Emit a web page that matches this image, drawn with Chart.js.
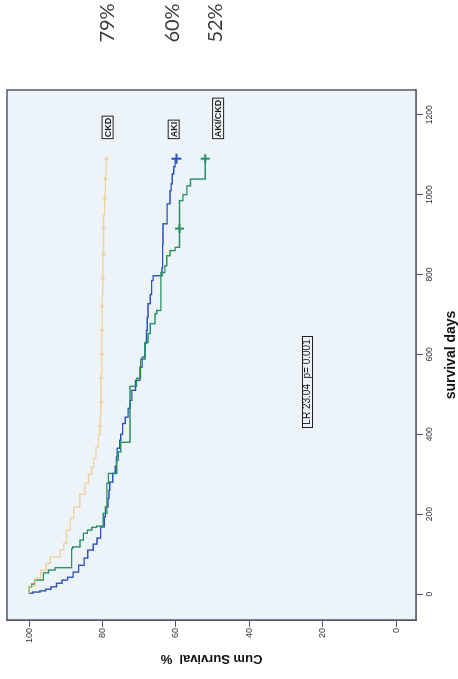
<!DOCTYPE html>
<html><head><meta charset="utf-8">
<script src="https://cdn.jsdelivr.net/npm/chart.js@4.4.1/dist/chart.umd.min.js"></script>
<style>
html,body{margin:0;padding:0;background:#fff;width:458px;height:679px;overflow:hidden;}
#wrap{position:absolute;left:0;top:0;width:679px;height:458px;transform-origin:0 0;transform:translate(0,679px) rotate(-90deg);}
canvas{display:block;}
</style></head><body>
<div id="wrap"><canvas id="c" width="679" height="458"></canvas></div>
<script>
// ---- data ----
const dayTicks = [0, 200, 400, 600, 800, 1000, 1200];
const survTicks = [0, 20, 40, 60, 80, 100];
const groups = ['CKD', 'AKI', 'AKI/CKD'];
const endPercents = ['79%', '60%', '52%'];
const endPercentAnchor = [78.7, 61, 49.2];
const groupLabelAnchor = [78.6, 60.6, 48.5];
const testText = 'LR 23.04  p= 0.001';

const ckdDays = [0,20,40,60,77,93,110,127,160,190,218,250,277,300,318,340,368,400,450,550,650,750,850,950,1000,1050,1090];
const ckdSurv = [100,98.3,96.8,95.3,94.2,91.5,90.5,89.8,88.8,87.8,86.2,84.8,83.8,83,82.4,81.8,81.1,80.6,80.4,80.2,80.1,79.9,79.7,79.4,79.2,79,78.8];
const ckdCensorDays = [420,480,540,600,660,720,790,850,915,990,1040,1090];
const ckdCensorSurv = [80.6,80.4,80.4,80.2,80.1,80.1,79.9,79.7,79.7,79.4,79.2,78.8];

const akiDays = [0,2,5,8,12,18,27,35,42,55,72,90,110,125,140,168,193,218,240,260,280,302,320,343,365,385,400,427,443,465,485,510,535,568,593,628,660,693,727,750,785,797,817,877,927,977,1010,1027,1052,1070,1088];
const akiSurv = [100,99,97,95.5,94,92.5,91,89.5,88,86.5,85,84,82.5,81.5,80.5,79.5,79.2,78.5,78.2,78,77.2,76.5,76.2,76,75.3,75,74.5,73.8,73,72.5,72,71,69.8,69.2,68.4,68,67.8,67.6,67,66.6,66.2,63.8,63.6,63.5,62.4,61.6,61.3,61,60.6,60.2,59.8];
const akiCensorDays = [1090];
const akiCensorSurv = [59.8];

const akickdDays = [0,18,25,35,53,60,66,114,118,135,152,160,167,170,202,277,302,335,356,380,520,540,588,630,652,677,702,710,805,822,847,860,868,985,1000,1022,1039,1090];
const akickdSurv = [100,99.3,98.4,96.1,94.7,92.9,88.4,88.1,86.1,85.2,84.1,82.9,81.6,79.8,78.8,78.4,76.1,75.7,75,72.5,70.7,69.6,68.4,67.6,67,65.7,65.2,64.1,63,62.5,61.6,60.2,59,58.1,57,56,52,52];
const akickdCensorDays = [915, 1090];
const akickdCensorSurv = [59, 52];

// ---- styles ----
const C_CKD = 'rgba(240,206,145,0.85)';
const C_AKI = 'rgb(45,82,185)';
const C_AKICKD = 'rgb(38,146,98)';
const FRAME = 'rgb(82,88,104)';
const PLOTBG = 'rgb(236,243,249)';

const pts = (xs, ys) => xs.map((x, i) => ({x, y: ys[i]}));

const frameAndLabels = {
  id: 'frameAndLabels',
  beforeDatasetsDraw(chart) {
    const {ctx, chartArea: a} = chart;
    ctx.save();
    ctx.fillStyle = PLOTBG;
    ctx.fillRect(a.left, a.top, a.right - a.left, a.bottom - a.top);
    ctx.restore();
  },
  afterDraw(chart) {
    const {ctx, chartArea: a, scales: {x, y}} = chart;
    ctx.save();
    ctx.strokeStyle = FRAME;
    ctx.lineWidth = 1.5;
    ctx.strokeRect(a.left, a.top, a.right - a.left, a.bottom - a.top);

    // group labels in boxes
    ctx.font = 'bold 9px "Liberation Sans", Arial, sans-serif';
    ctx.textBaseline = 'middle';
    ctx.textAlign = 'left';
    const gx = x.getPixelForValue(1139);
    groups.forEach((g, i) => {
      const cy = y.getPixelForValue(groupLabelAnchor[i]);
      const w = ctx.measureText(g).width;
      ctx.fillStyle = '#f4f7fa';
      ctx.fillRect(gx, cy - 6, w + 4, 12);
      ctx.strokeStyle = '#222';
      ctx.lineWidth = 1;
      ctx.strokeRect(gx + 0.5, cy - 6 + 0.5, w + 3, 11);
      ctx.fillStyle = '#1a1a1a';
      ctx.fillText(g, gx + 2, cy + 0.5);
    });

    // test statistic box
    ctx.font = '10px "Liberation Sans", Arial, sans-serif';
    ctx.textAlign = 'center';
    const tx = x.getPixelForValue(531), ty = y.getPixelForValue(24.3);
    const tw = ctx.measureText(testText).width;
    ctx.strokeStyle = '#222';
    ctx.lineWidth = 1;
    ctx.strokeRect(Math.round(tx - tw / 2 - 3) + 0.5, Math.round(ty - 5) + 0.5, Math.round(tw + 6), 10);
    ctx.fillStyle = '#1a1a1a';
    ctx.fillText(testText, tx, ty + 0.5);

    // end percentages outside plot
    ctx.font = '20px Lato, "Open Sans", sans-serif';
    ctx.fillStyle = '#3a3a3a';
    ctx.textAlign = 'center';
    endPercents.forEach((p, i) => {
      ctx.fillText(p, a.right + 67, y.getPixelForValue(endPercentAnchor[i]));
    });
    ctx.restore();
  }
};

const lineDs = (label, xs, ys, color, w) => ({
  label, data: pts(xs, ys), showLine: true, stepped: true,
  borderColor: color, borderWidth: w, pointRadius: 0, fill: false
});
const censorDs = (label, xs, ys, color, r, w) => ({
  label, data: pts(xs, ys), showLine: false, pointStyle: 'cross',
  pointRadius: r, pointBorderColor: color, pointBorderWidth: w, pointBackgroundColor: color
});

new Chart(document.getElementById('c'), {
  type: 'scatter',
  data: {
    datasets: [
      lineDs('CKD', ckdDays, ckdSurv, C_CKD, 1.4),
      censorDs('CKD censored', ckdCensorDays, ckdCensorSurv, C_CKD, 2.5, 1.2),
      lineDs('AKI/CKD', akickdDays, akickdSurv, C_AKICKD, 1.4),
      censorDs('AKI/CKD censored', akickdCensorDays, akickdCensorSurv, C_AKICKD, 4.5, 2),
      lineDs('AKI', akiDays, akiSurv, C_AKI, 1.4),
      censorDs('AKI censored', akiCensorDays, akiCensorSurv, C_AKI, 5, 2)
    ]
  },
  options: {
    responsive: false,
    animation: false,
    devicePixelRatio: 1,
    layout: {padding: {left: 0, top: 7, right: 90, bottom: 0}},
    plugins: {legend: {display: false}, tooltip: {enabled: false}},
    scales: {
      x: {
        type: 'linear', position: 'bottom', min: -65, max: 1262,
        afterBuildTicks: s => { s.ticks = dayTicks.map(v => ({value: v})); },
        afterFit: s => { s.height = 42; },
        ticks: {color: '#333', font: {family: '"Liberation Sans", Arial, sans-serif', size: 8.5}, padding: 2, maxRotation: 0,
          callback: v => String(v)},
        grid: {drawOnChartArea: false, drawTicks: true, tickLength: 7, color: FRAME, lineWidth: 1},
        border: {display: true, color: FRAME, width: 1.5},
        title: {display: true, text: 'survival days', color: '#111',
          font: {family: '"Liberation Sans", Arial, sans-serif', size: 14, weight: 'bold', lineHeight: 1},
          padding: {top: 0, bottom: 0}}
      },
      y: {
        type: 'linear', position: 'left', min: -5.4, max: 106,
        afterBuildTicks: s => { s.ticks = survTicks.map(v => ({value: v})); },
        afterFit: s => { s.width = 59; },
        ticks: {color: '#333', font: {family: '"Liberation Sans", Arial, sans-serif', size: 9}, padding: 1,
          callback: v => String(v)},
        grid: {drawOnChartArea: false, drawTicks: true, tickLength: 7, color: FRAME, lineWidth: 1},
        border: {display: true, color: FRAME, width: 1.5},
        title: {display: true, text: 'Cum Survival  %', color: '#111',
          font: {family: '"Liberation Sans", Arial, sans-serif', size: 13, weight: 'bold', lineHeight: 1},
          padding: {top: 14, bottom: 0}}
      }
    }
  },
  plugins: [frameAndLabels]
});
</script>
</body></html>
